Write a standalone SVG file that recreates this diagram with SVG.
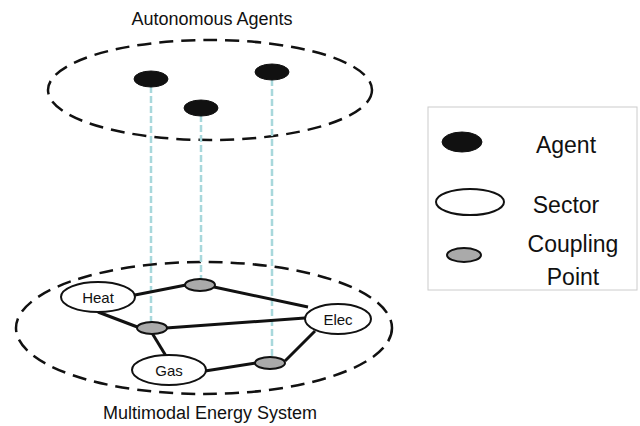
<svg xmlns="http://www.w3.org/2000/svg" width="640" height="426" viewBox="0 0 640 426">
<style>
text{font-family:"Liberation Sans",Arial,sans-serif;fill:#111}
.layer{fill:none;stroke:#111;stroke-width:2.5;stroke-dasharray:14 8}
.agent{fill:#111;stroke:#111;stroke-width:1}
.sector{fill:#fff;stroke:#111;stroke-width:2}
.cp{fill:#aaa;stroke:#111;stroke-width:2}
.edge{stroke:#111;stroke-width:3}
.link{stroke:#a8d8dc;stroke-width:2.5;stroke-dasharray:7 3}
</style>
<rect width="640" height="426" fill="#fff"/>
<g id="layers">
<ellipse class="layer" cx="210" cy="90" rx="162" ry="50"/>
<ellipse class="layer" cx="204" cy="328" rx="188" ry="66"/>
<text x="212" y="25" font-size="18" text-anchor="middle">Autonomous Agents</text>
<text x="210" y="419" font-size="18" text-anchor="middle">Multimodal Energy System</text>
</g>
<g id="connectors">
<line class="link" x1="151" y1="86" x2="151" y2="327"/>
<line class="link" x1="201" y1="115" x2="201" y2="285"/>
<line class="link" x1="272" y1="79" x2="272" y2="362"/>
<line class="edge" x1="135" y1="295" x2="186" y2="285"/>
<line class="edge" x1="214" y1="287" x2="308" y2="307"/>
<line class="edge" x1="98" y1="312" x2="140" y2="328"/>
<line class="edge" x1="166" y1="328" x2="305" y2="318"/>
<line class="edge" x1="152" y1="333" x2="166" y2="356"/>
<line class="edge" x1="205" y1="371" x2="256" y2="363"/>
<line class="edge" x1="285" y1="361" x2="315" y2="331"/>
</g>
<g id="agent1"><ellipse class="agent" cx="151" cy="79" rx="17" ry="8"/></g>
<g id="agent2"><ellipse class="agent" cx="201" cy="108" rx="17" ry="8"/></g>
<g id="agent3"><ellipse class="agent" cx="272" cy="72" rx="17" ry="8"/></g>
<g id="heat"><ellipse class="sector" cx="98" cy="297" rx="37" ry="15"/><text x="98" y="303" font-size="15" text-anchor="middle">Heat</text></g>
<g id="elec"><ellipse class="sector" cx="338" cy="319" rx="33" ry="15"/><text x="338" y="325" font-size="15" text-anchor="middle">Elec</text></g>
<g id="gas"><ellipse class="sector" cx="169" cy="370" rx="37" ry="15"/><text x="169" y="376" font-size="15" text-anchor="middle">Gas</text></g>
<g id="cp1"><ellipse class="cp" cx="200" cy="285" rx="15" ry="6"/></g>
<g id="cp2"><ellipse class="cp" cx="152" cy="328" rx="15" ry="6"/></g>
<g id="cp3"><ellipse class="cp" cx="270" cy="363" rx="15" ry="6"/></g>
<g id="legend">
<rect x="428" y="107" width="209" height="183" fill="#fff" stroke="#ccc" stroke-width="1"/>
<ellipse class="agent" cx="462" cy="142" rx="20" ry="10"/>
<text x="566" y="153" font-size="23" text-anchor="middle">Agent</text>
<ellipse class="sector" cx="470" cy="202" rx="34" ry="13"/>
<text x="566" y="213" font-size="23" text-anchor="middle">Sector</text>
<ellipse class="cp" cx="464" cy="255" rx="17" ry="7"/>
<text x="573" y="252" font-size="23" text-anchor="middle">Coupling</text>
<text x="573" y="285" font-size="23" text-anchor="middle">Point</text>
</g>
</svg>
